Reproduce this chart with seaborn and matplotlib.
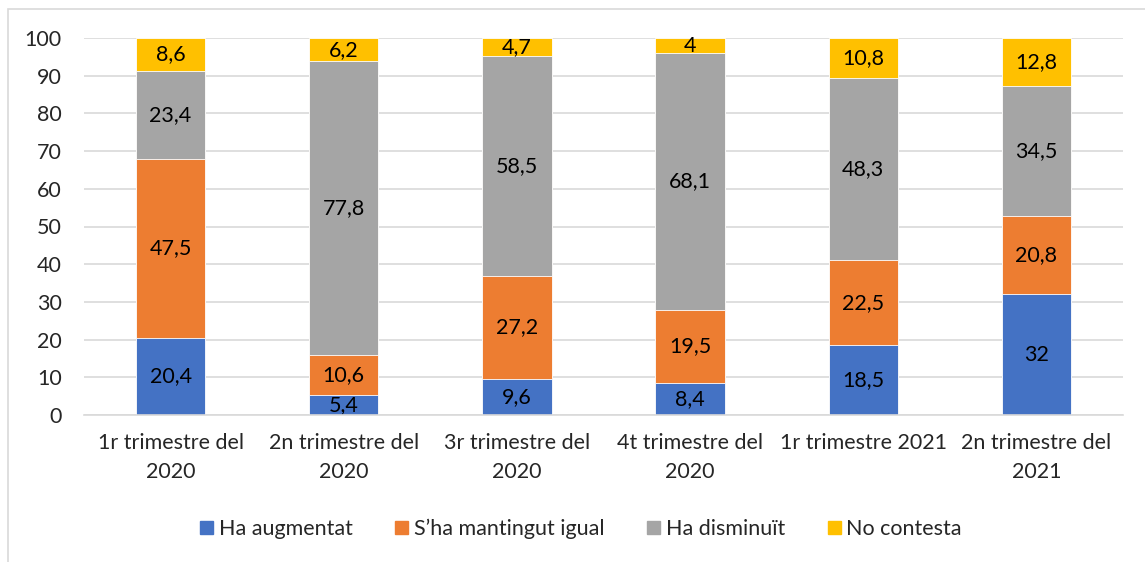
import numpy as np
import pandas as pd
import matplotlib
matplotlib.use("Agg")
import matplotlib.pyplot as plt
import matplotlib.patches as mpatches
import seaborn as sns

# Data (percentages)
periodes = ["1r trimestre del\n2020", "2n trimestre del\n2020", "3r trimestre del\n2020",
            "4t trimestre del\n2020", "1r trimestre 2021", "2n trimestre del\n2021"]
ha_augmentat = [20.4, 5.4, 9.6, 8.4, 18.5, 32]
mantingut_igual = [47.5, 10.6, 27.2, 19.5, 22.5, 20.8]
ha_disminuit = [23.4, 77.8, 58.5, 68.1, 48.3, 34.5]
no_contesta = [8.6, 6.2, 4.7, 4, 10.8, 12.8]

series_names = ["Ha augmentat", "S\u2019ha mantingut igual", "Ha disminuït", "No contesta"]
series_vals = [ha_augmentat, mantingut_igual, ha_disminuit, no_contesta]
colors = ["#4472C4", "#ED7D31", "#A5A5A5", "#FFC000"]

sns.set_theme(style="white")
plt.rcParams["font.family"] = ["Lato", "DejaVu Sans"]
FS = 15.5

df = pd.DataFrame({"periode": periodes})
for name, vals in zip(series_names, series_vals):
    df[name] = vals
cum = df[series_names].cumsum(axis=1)

fig = plt.figure(figsize=(11.45, 5.62), dpi=100)
ax = fig.add_axes([84 / 1145, 147 / 562, 1039 / 1145, 377 / 562])

# draw from top of stack down so lower segments overlay the cumulative bars
for name, col in reversed(list(zip(series_names, colors))):
    sns.barplot(x=df["periode"], y=cum[name], color=col, width=0.4,
                saturation=1, ax=ax, zorder=2, linewidth=0.6, edgecolor="white")

# segment labels
for i in range(len(periodes)):
    bottom = 0
    for name in series_names:
        v = df.loc[i, name]
        txt = f"{v:g}".replace(".", ",")
        ax.text(i, bottom + v / 2, txt, ha="center", va="center",
                fontsize=FS, color="black", zorder=3)
        bottom += v

ax.set_ylim(0, 100)
ax.set_xlim(-0.5, len(periodes) - 0.5)
ax.set_yticks(np.arange(0, 101, 10))
ax.yaxis.grid(True, color="#D9D9D9", linewidth=1.2, zorder=0)
ax.set_axisbelow(True)
for s in ["top", "right", "left"]:
    ax.spines[s].set_visible(False)
ax.spines["bottom"].set_color("#D9D9D9")
ax.spines["bottom"].set_linewidth(1.2)
ax.spines["bottom"].set_zorder(4)
ax.tick_params(axis="y", length=0, pad=16, labelsize=FS)
ax.tick_params(axis="x", length=0, pad=13, labelsize=FS)
for lab in ax.get_xticklabels():
    lab.set_linespacing(1.55)
ax.set_xlabel("")
ax.set_ylabel("")

handles = [mpatches.Patch(color=c, label=n) for n, c in zip(series_names, colors)]
fig.legend(handles=handles, loc="center", bbox_to_anchor=(581 / 1145, 1 - 529 / 562),
           ncol=4, frameon=False, fontsize=FS, handlelength=0.6, handleheight=0.6,
           handletextpad=0.25, columnspacing=2.0)

# light outer chart border
fig.add_artist(mpatches.Rectangle((8 / 1145, -0.1), 1.2, 1.1 - 9 / 562,
                                  transform=fig.transFigure, fill=False,
                                  edgecolor="#D9D9D9", linewidth=1.2))

fig.savefig("out.png", dpi=100)
